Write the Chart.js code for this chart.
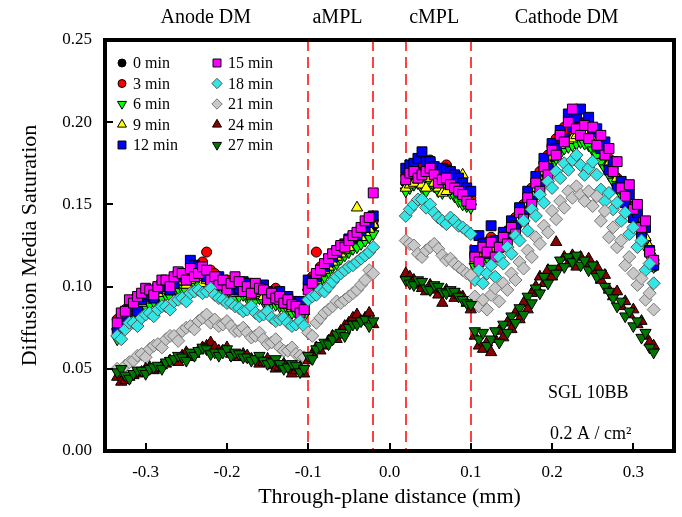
<!DOCTYPE html>
<html>
<head>
<meta charset="utf-8">
<script src="https://cdn.jsdelivr.net/npm/chart.js@4.4.1/dist/chart.umd.min.js"></script>
<style>
  html, body { margin: 0; padding: 0; background: #fff; }
</style>
</head>
<body>
<canvas id="chart" width="682" height="517"></canvas>
<script>
// through-plane positions (mm): anode DM (47), aMPL (17), cMPL (17), cathode DM (45)
const distance = [
  -0.335, -0.330, -0.325, -0.320, -0.315, -0.310, -0.305, -0.300, -0.295, -0.290,
  -0.285, -0.280, -0.275, -0.270, -0.265, -0.260, -0.255, -0.250, -0.245, -0.240,
  -0.235, -0.230, -0.225, -0.220, -0.215, -0.210, -0.205, -0.200, -0.195, -0.190,
  -0.185, -0.180, -0.175, -0.170, -0.165, -0.160, -0.155, -0.150, -0.145, -0.140,
  -0.135, -0.130, -0.125, -0.120, -0.115, -0.110, -0.105,
  -0.100, -0.095, -0.090, -0.085, -0.080, -0.075, -0.070, -0.065, -0.060, -0.055,
  -0.050, -0.045, -0.040, -0.035, -0.030, -0.025, -0.020,
  0.020, 0.025, 0.030, 0.035, 0.040, 0.045, 0.050, 0.055, 0.060, 0.065,
  0.070, 0.075, 0.080, 0.085, 0.090, 0.095, 0.100,
  0.105, 0.110, 0.115, 0.120, 0.125, 0.130, 0.135, 0.140, 0.145, 0.150,
  0.155, 0.160, 0.165, 0.170, 0.175, 0.180, 0.185, 0.190, 0.195, 0.200,
  0.205, 0.210, 0.215, 0.220, 0.225, 0.230, 0.235, 0.240, 0.245, 0.250,
  0.255, 0.260, 0.265, 0.270, 0.275, 0.280, 0.285, 0.290, 0.295, 0.300,
  0.305, 0.310, 0.315, 0.320, 0.325
];

const sat0 = [
  0.074, 0.079, 0.080, 0.085, 0.086, 0.087, 0.090, 0.093, 0.093, 0.094,
  0.096, 0.099, 0.098, 0.097, 0.100, 0.103, 0.102, 0.100, 0.104, 0.106,
  0.105, 0.102, 0.104, 0.105, 0.102, 0.099, 0.100, 0.101, 0.098, 0.095,
  0.097, 0.098, 0.096, 0.094, 0.096, 0.097, 0.094, 0.092, 0.093, 0.094,
  0.091, 0.089, 0.090, 0.088, 0.087, 0.086, 0.085,
  0.099, 0.101, 0.103, 0.107, 0.109, 0.112, 0.115, 0.118, 0.120, 0.121,
  0.124, 0.127, 0.128, 0.131, 0.132, 0.135, 0.137,
  0.163, 0.166, 0.168, 0.171, 0.170, 0.168, 0.172, 0.169, 0.166, 0.170,
  0.168, 0.164, 0.162, 0.160, 0.158, 0.155, 0.152,
  0.118, 0.121, 0.122, 0.125, 0.126, 0.124, 0.127, 0.130, 0.132, 0.136,
  0.140, 0.143, 0.148, 0.153, 0.158, 0.162, 0.167, 0.172, 0.177, 0.182,
  0.186, 0.189, 0.192, 0.194, 0.195, 0.197, 0.197, 0.196, 0.195, 0.193,
  0.190, 0.186, 0.181, 0.176, 0.170, 0.165, 0.160, 0.156, 0.150, 0.145,
  0.140, 0.134, 0.128, 0.121, 0.114
];
const sat3 = [
  0.080, 0.083, 0.086, 0.089, 0.092, 0.090, 0.094, 0.097, 0.097, 0.095,
  0.098, 0.101, 0.102, 0.100, 0.104, 0.106, 0.105, 0.103, 0.107, 0.110,
  0.109, 0.115, 0.121, 0.110, 0.108, 0.106, 0.103, 0.104, 0.101, 0.099,
  0.100, 0.102, 0.099, 0.097, 0.100, 0.098, 0.098, 0.096, 0.097, 0.099,
  0.095, 0.094, 0.093, 0.091, 0.090, 0.088, 0.087,
  0.102, 0.106, 0.121, 0.112, 0.110, 0.115, 0.117, 0.119, 0.122, 0.124,
  0.126, 0.128, 0.130, 0.133, 0.134, 0.137, 0.140,
  0.168, 0.170, 0.172, 0.176, 0.175, 0.172, 0.177, 0.173, 0.170, 0.168,
  0.174, 0.170, 0.166, 0.163, 0.160, 0.157, 0.154,
  0.120, 0.118, 0.124, 0.127, 0.130, 0.126, 0.128, 0.131, 0.134, 0.138,
  0.142, 0.146, 0.150, 0.155, 0.160, 0.164, 0.170, 0.175, 0.180, 0.186,
  0.190, 0.193, 0.197, 0.195, 0.198, 0.201, 0.200, 0.197, 0.196, 0.194,
  0.192, 0.188, 0.184, 0.178, 0.172, 0.166, 0.160, 0.155, 0.150, 0.146,
  0.140, 0.133, 0.127, 0.120, 0.112
];
const sat6 = [
  0.068, 0.074, 0.078, 0.080, 0.084, 0.083, 0.086, 0.088, 0.089, 0.091,
  0.092, 0.093, 0.095, 0.094, 0.097, 0.099, 0.099, 0.097, 0.100, 0.102,
  0.101, 0.099, 0.100, 0.098, 0.098, 0.096, 0.097, 0.096, 0.095, 0.093,
  0.094, 0.095, 0.093, 0.091, 0.092, 0.093, 0.091, 0.089, 0.090, 0.089,
  0.088, 0.087, 0.086, 0.084, 0.084, 0.083, 0.082,
  0.096, 0.098, 0.100, 0.103, 0.106, 0.109, 0.112, 0.114, 0.117, 0.119,
  0.121, 0.123, 0.124, 0.126, 0.128, 0.130, 0.132,
  0.158, 0.160, 0.162, 0.163, 0.160, 0.158, 0.163, 0.161, 0.158, 0.157,
  0.160, 0.157, 0.155, 0.152, 0.150, 0.149, 0.148,
  0.112, 0.114, 0.116, 0.118, 0.120, 0.119, 0.122, 0.125, 0.128, 0.131,
  0.134, 0.138, 0.142, 0.146, 0.150, 0.155, 0.160, 0.165, 0.170, 0.174,
  0.178, 0.181, 0.184, 0.185, 0.186, 0.187, 0.188, 0.187, 0.186, 0.183,
  0.180, 0.176, 0.172, 0.168, 0.164, 0.160, 0.156, 0.151, 0.146, 0.141,
  0.136, 0.130, 0.124, 0.118, 0.112
];
const sat9 = [
  0.076, 0.079, 0.082, 0.085, 0.088, 0.087, 0.090, 0.092, 0.094, 0.093,
  0.096, 0.098, 0.099, 0.097, 0.101, 0.103, 0.103, 0.101, 0.104, 0.106,
  0.105, 0.102, 0.104, 0.103, 0.102, 0.100, 0.100, 0.099, 0.098, 0.096,
  0.097, 0.098, 0.096, 0.094, 0.095, 0.096, 0.094, 0.092, 0.092, 0.093,
  0.091, 0.089, 0.089, 0.087, 0.087, 0.086, 0.085,
  0.100, 0.102, 0.104, 0.108, 0.110, 0.112, 0.115, 0.118, 0.120, 0.122,
  0.124, 0.130, 0.148, 0.130, 0.133, 0.135, 0.138,
  0.160, 0.162, 0.163, 0.165, 0.162, 0.160, 0.166, 0.163, 0.160, 0.157,
  0.158, 0.161, 0.164, 0.166, 0.168, 0.160, 0.152,
  0.116, 0.118, 0.120, 0.122, 0.124, 0.123, 0.126, 0.128, 0.130, 0.134,
  0.138, 0.142, 0.146, 0.151, 0.156, 0.160, 0.165, 0.170, 0.175, 0.179,
  0.183, 0.186, 0.188, 0.189, 0.190, 0.192, 0.193, 0.195, 0.194, 0.191,
  0.188, 0.184, 0.180, 0.175, 0.170, 0.166, 0.162, 0.158, 0.154, 0.149,
  0.144, 0.137, 0.130, 0.124, 0.118
];
const sat12 = [
  0.072, 0.078, 0.082, 0.086, 0.088, 0.085, 0.092, 0.094, 0.095, 0.093,
  0.099, 0.101, 0.100, 0.098, 0.102, 0.107, 0.106, 0.104, 0.116, 0.113,
  0.112, 0.108, 0.106, 0.104, 0.104, 0.106, 0.102, 0.100, 0.100, 0.098,
  0.099, 0.103, 0.102, 0.099, 0.098, 0.100, 0.101, 0.097, 0.096, 0.095,
  0.097, 0.094, 0.094, 0.091, 0.090, 0.091, 0.088,
  0.104, 0.103, 0.106, 0.110, 0.112, 0.115, 0.118, 0.121, 0.124, 0.126,
  0.129, 0.130, 0.131, 0.134, 0.136, 0.139, 0.143,
  0.172, 0.174, 0.175, 0.178, 0.182, 0.176, 0.176, 0.173, 0.170, 0.172,
  0.171, 0.170, 0.168, 0.166, 0.163, 0.160, 0.158,
  0.122, 0.131, 0.126, 0.120, 0.137, 0.128, 0.124, 0.133, 0.130, 0.140,
  0.137, 0.148, 0.145, 0.158, 0.152, 0.167, 0.162, 0.178, 0.172, 0.187,
  0.184, 0.195, 0.190, 0.205, 0.197, 0.203, 0.208, 0.199, 0.203, 0.194,
  0.196, 0.184, 0.188, 0.171, 0.176, 0.160, 0.164, 0.151, 0.156, 0.142,
  0.145, 0.132, 0.136, 0.122, 0.113
];
const sat15 = [
  0.078, 0.084, 0.085, 0.092, 0.090, 0.094, 0.096, 0.099, 0.098, 0.095,
  0.100, 0.104, 0.104, 0.100, 0.106, 0.109, 0.108, 0.104, 0.111, 0.106,
  0.108, 0.112, 0.110, 0.104, 0.106, 0.101, 0.104, 0.098, 0.102, 0.106,
  0.103, 0.097, 0.100, 0.096, 0.102, 0.099, 0.098, 0.092, 0.096, 0.093,
  0.094, 0.090, 0.092, 0.089, 0.088, 0.084, 0.086,
  0.098, 0.102, 0.108, 0.110, 0.114, 0.117, 0.120, 0.122, 0.125, 0.124,
  0.128, 0.131, 0.133, 0.136, 0.140, 0.142, 0.157,
  0.165, 0.169, 0.170, 0.166, 0.168, 0.170, 0.172, 0.168, 0.163, 0.165,
  0.166, 0.162, 0.160, 0.158, 0.156, 0.152, 0.150,
  0.118, 0.115, 0.124, 0.121, 0.127, 0.118, 0.124, 0.130, 0.126, 0.136,
  0.132, 0.145, 0.141, 0.154, 0.150, 0.163, 0.158, 0.173, 0.168, 0.183,
  0.180, 0.192, 0.188, 0.200, 0.208, 0.196, 0.192, 0.198, 0.190, 0.197,
  0.186, 0.192, 0.180, 0.184, 0.170, 0.176, 0.160, 0.155, 0.162, 0.147,
  0.150, 0.136, 0.140, 0.121, 0.116
];
const sat18 = [
  0.070, 0.068, 0.074, 0.078, 0.078, 0.076, 0.081, 0.083, 0.084, 0.082,
  0.086, 0.088, 0.088, 0.086, 0.091, 0.092, 0.093, 0.091, 0.096, 0.097,
  0.098, 0.096, 0.097, 0.099, 0.095, 0.093, 0.092, 0.090, 0.090, 0.088,
  0.087, 0.085, 0.086, 0.088, 0.084, 0.082, 0.083, 0.085, 0.081, 0.079,
  0.080, 0.081, 0.078, 0.076, 0.077, 0.079, 0.076,
  0.092, 0.094, 0.095, 0.098, 0.097, 0.100, 0.103, 0.106, 0.108, 0.110,
  0.112, 0.113, 0.115, 0.117, 0.119, 0.121, 0.124,
  0.143, 0.147, 0.150, 0.153, 0.153, 0.148, 0.150, 0.145, 0.142, 0.140,
  0.138, 0.142, 0.140, 0.137, 0.136, 0.134, 0.132,
  0.104, 0.110, 0.102, 0.108, 0.113, 0.106, 0.118, 0.114, 0.124, 0.120,
  0.131, 0.128, 0.140, 0.134, 0.147, 0.143, 0.156, 0.151, 0.164, 0.160,
  0.170, 0.166, 0.175, 0.171, 0.177, 0.180, 0.174, 0.168, 0.172, 0.176,
  0.168, 0.159, 0.152, 0.157, 0.147, 0.151, 0.140, 0.145, 0.132, 0.136,
  0.124, 0.128, 0.110, 0.114, 0.102
];
const sat21 = [
  0.050, 0.049, 0.052, 0.054, 0.055, 0.058, 0.059, 0.057, 0.062, 0.064,
  0.065, 0.063, 0.068, 0.070, 0.070, 0.067, 0.073, 0.075, 0.076, 0.074,
  0.079, 0.081, 0.083, 0.078, 0.080, 0.076, 0.077, 0.079, 0.076, 0.073,
  0.073, 0.075, 0.072, 0.069, 0.070, 0.072, 0.068, 0.065, 0.066, 0.068,
  0.063, 0.061, 0.061, 0.063, 0.059, 0.058, 0.057,
  0.072, 0.070, 0.078, 0.081, 0.084, 0.086, 0.088, 0.091, 0.090, 0.092,
  0.094, 0.096, 0.098, 0.101, 0.104, 0.110, 0.108,
  0.128, 0.126, 0.125, 0.120, 0.118, 0.122, 0.124, 0.126, 0.123, 0.119,
  0.116, 0.117, 0.114, 0.112, 0.110, 0.108, 0.107,
  0.094, 0.088, 0.092, 0.086, 0.095, 0.099, 0.091, 0.102, 0.098, 0.108,
  0.104, 0.115, 0.111, 0.122, 0.118, 0.130, 0.126, 0.137, 0.133, 0.146,
  0.141, 0.152, 0.148, 0.158, 0.154, 0.161, 0.156, 0.152, 0.158, 0.149,
  0.155, 0.140, 0.146, 0.130, 0.136, 0.124, 0.128, 0.113, 0.118, 0.108,
  0.101, 0.105, 0.092, 0.096, 0.086
];
const sat24 = [
  0.045, 0.042, 0.043, 0.045, 0.046, 0.047, 0.048, 0.050, 0.051, 0.049,
  0.050, 0.052, 0.053, 0.055, 0.055, 0.054, 0.058, 0.060, 0.057, 0.059,
  0.061, 0.063, 0.064, 0.066, 0.063, 0.061, 0.061, 0.063, 0.059, 0.057,
  0.057, 0.059, 0.058, 0.056, 0.055, 0.053, 0.054, 0.056, 0.052, 0.050,
  0.051, 0.053, 0.050, 0.047, 0.049, 0.051, 0.047,
  0.055, 0.059, 0.063, 0.061, 0.064, 0.067, 0.070, 0.068, 0.073, 0.076,
  0.078, 0.081, 0.083, 0.079, 0.081, 0.084, 0.077,
  0.108, 0.106, 0.104, 0.101, 0.099, 0.097, 0.101, 0.098, 0.095, 0.090,
  0.098, 0.096, 0.093, 0.095, 0.094, 0.090, 0.086,
  0.070, 0.064, 0.062, 0.066, 0.060, 0.068, 0.073, 0.069, 0.078, 0.074,
  0.084, 0.080, 0.090, 0.086, 0.096, 0.100, 0.106, 0.102, 0.110, 0.106,
  0.127, 0.112, 0.118, 0.114, 0.119, 0.112, 0.118, 0.114, 0.117, 0.110,
  0.112, 0.104, 0.107, 0.098, 0.094, 0.097, 0.088, 0.091, 0.083, 0.086,
  0.077, 0.079, 0.070, 0.066, 0.064
];
const sat27 = [
  0.048, 0.050, 0.046, 0.044, 0.047, 0.049, 0.049, 0.047, 0.050, 0.051,
  0.052, 0.050, 0.054, 0.055, 0.056, 0.058, 0.057, 0.055, 0.060, 0.058,
  0.061, 0.063, 0.062, 0.059, 0.060, 0.058, 0.060, 0.062, 0.058, 0.060,
  0.059, 0.057, 0.057, 0.055, 0.056, 0.058, 0.055, 0.053, 0.054, 0.056,
  0.053, 0.050, 0.051, 0.053, 0.052, 0.048, 0.050,
  0.058, 0.056, 0.062, 0.064, 0.066, 0.065, 0.068, 0.071, 0.072, 0.070,
  0.075, 0.077, 0.077, 0.079, 0.080, 0.076, 0.079,
  0.104, 0.102, 0.101, 0.104, 0.103, 0.099, 0.098, 0.101, 0.100, 0.097,
  0.096, 0.098, 0.097, 0.094, 0.092, 0.090, 0.089,
  0.073, 0.068, 0.072, 0.064, 0.068, 0.073, 0.066, 0.077, 0.072, 0.082,
  0.078, 0.087, 0.083, 0.094, 0.090, 0.099, 0.096, 0.106, 0.102, 0.111,
  0.108, 0.116, 0.112, 0.118, 0.115, 0.119, 0.113, 0.116, 0.110, 0.113,
  0.106, 0.108, 0.100, 0.097, 0.093, 0.088, 0.091, 0.082, 0.085, 0.076,
  0.079, 0.069, 0.072, 0.063, 0.060
];

const times = ["0 min", "3 min", "6 min", "9 min", "12 min", "15 min", "18 min", "21 min", "24 min", "27 min"];
const values = [sat0, sat3, sat6, sat9, sat12, sat15, sat18, sat21, sat24, sat27];
const boundaries = [-0.1, -0.02, 0.02, 0.1];
const regions = ["Anode DM", "aMPL", "cMPL", "Cathode DM"];
const regionAt = [-0.226, -0.064, 0.055, 0.218];
const xTicks = [-0.3, -0.2, -0.1, 0.0, 0.1, 0.2, 0.3];
const yTicks = [0.05, 0.10, 0.15, 0.20];

// marker look per series
const fills = ["#000000", "#ff0000", "#00ff00", "#ffff00", "#0000ff", "#ff00ff", "#33e6e6", "#c8c8c8", "#8b0000", "#007800"];
const borders = ["#000", "#000", "#000", "#000", "#000", "#000", "#555", "#777", "#000", "#000"];
const shapes = ["circle", "circle", "triangle", "triangle", "rect", "rect", "rectRot", "rectRot", "triangle", "triangle"];
const turns = [0, 0, 180, 0, 0, 0, 0, 0, 0, 180];
const sizes = [5, 5, 6.5, 6.5, 7, 7, 6.5, 6.5, 6.5, 6.5];

const serif = "'Liberation Serif', 'Times New Roman', serif";

const datasets = times.map((t, i) => ({
  label: t,
  data: distance.map((x, j) => ({ x: x, y: values[i][j] })),
  backgroundColor: fills[i],
  borderColor: borders[i],
  borderWidth: 1,
  pointStyle: shapes[i],
  rotation: turns[i],
  pointRadius: sizes[i],
  order: 9 - i
}));

const decor = {
  id: "decor",
  beforeDatasetsDraw(chart) {
    const { ctx, chartArea: a, scales: { x } } = chart;
    ctx.save();
    ctx.strokeStyle = "#ff4040";
    ctx.lineWidth = 2;
    ctx.setLineDash([11, 6]);
    boundaries.forEach(b => {
      const px = Math.round(x.getPixelForValue(b));
      ctx.beginPath();
      ctx.moveTo(px, a.top);
      ctx.lineTo(px, a.bottom);
      ctx.stroke();
    });
    ctx.restore();
  },
  afterDraw(chart) {
    const { ctx, chartArea: a, scales: { x, y } } = chart;
    ctx.save();
    // frame
    ctx.strokeStyle = "#000";
    ctx.lineWidth = 4;
    ctx.strokeRect(a.left, a.top, a.right - a.left, a.bottom - a.top);
    // inward ticks
    ctx.lineWidth = 2;
    xTicks.forEach(v => {
      const px = Math.round(x.getPixelForValue(v));
      ctx.beginPath();
      ctx.moveTo(px, a.bottom);
      ctx.lineTo(px, a.bottom - 8);
      ctx.stroke();
    });
    yTicks.forEach(v => {
      const py = Math.round(y.getPixelForValue(v));
      ctx.beginPath();
      ctx.moveTo(a.left, py);
      ctx.lineTo(a.left + 8, py);
      ctx.stroke();
    });
    // region names above the frame
    ctx.fillStyle = "#000";
    ctx.font = "20px " + serif;
    ctx.textAlign = "center";
    ctx.textBaseline = "middle";
    regions.forEach((r, i) => ctx.fillText(r, x.getPixelForValue(regionAt[i]), 18));
    // legend, two columns
    ctx.font = "16px " + serif;
    ctx.textAlign = "left";
    chart.data.datasets.forEach((ds, i) => {
      const col = Math.floor(i / 5), row = i % 5;
      const mx = col === 0 ? 122 : 217;
      const my = 63 + row * 20.5;
      ctx.fillStyle = ds.backgroundColor;
      ctx.strokeStyle = ds.borderColor;
      ctx.lineWidth = 1;
      Chart.helpers.drawPoint(ctx, { pointStyle: ds.pointStyle, rotation: ds.rotation, radius: ds.pointRadius * 0.8, borderWidth: 1 }, mx, my);
      ctx.fillStyle = "#000";
      ctx.fillText(ds.label, mx + 11, my + 1);
    });
    // condition note
    ctx.font = "18px " + serif;
    ctx.fillText("SGL 10BB", 548, 393);
    ctx.fillText("0.2 A / cm\u00b2", 550, 434);
    ctx.restore();
  }
};

new Chart(document.getElementById("chart"), {
  type: "scatter",
  data: { datasets },
  options: {
    responsive: false,
    animation: false,
    devicePixelRatio: 1,
    layout: { padding: { top: 40, right: 7, left: 0, bottom: 0 } },
    plugins: { legend: { display: false }, tooltip: { enabled: false } },
    scales: {
      x: {
        type: "linear",
        min: -0.35,
        max: 0.35,
        afterBuildTicks: s => { s.ticks = xTicks.map(v => ({ value: v })); },
        afterFit: s => { s.height = 66; },
        grid: { display: false, drawTicks: false },
        border: { display: false },
        ticks: {
          color: "#000",
          padding: 11,
          maxRotation: 0,
          autoSkip: false,
          font: { family: serif, size: 17 },
          callback: v => v.toFixed(1)
        },
        title: {
          display: true,
          text: "Through-plane distance (mm)",
          color: "#000",
          font: { family: serif, size: 22 },
          padding: { top: 0, bottom: 7 }
        }
      },
      y: {
        min: 0,
        max: 0.25,
        afterFit: s => { s.width = 105; },
        grid: { display: false, drawTicks: false },
        border: { display: false },
        ticks: {
          stepSize: 0.05,
          color: "#000",
          padding: 13,
          font: { family: serif, size: 17 },
          callback: v => v.toFixed(2)
        },
        title: {
          display: true,
          text: "Diffusion Media Saturation",
          color: "#000",
          font: { family: serif, size: 22 },
          padding: { top: 17, bottom: 0 }
        }
      }
    }
  },
  plugins: [decor]
});
</script>
</body>
</html>
